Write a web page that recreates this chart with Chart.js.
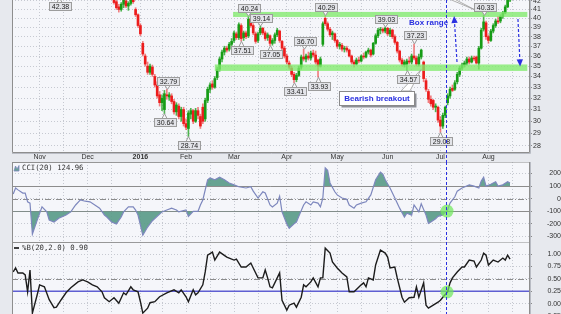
<!DOCTYPE html>
<html><head><meta charset="utf-8">
<script src="https://cdn.jsdelivr.net/npm/chart.js@4.4.1/dist/chart.umd.min.js"></script>
<style>
html,body{margin:0;padding:0;background:#e7e9ee;width:561px;height:314px;overflow:hidden}
canvas{position:absolute;left:0}
#cA{top:0}#cB{top:162px}#cC{top:242px}
</style></head><body>
<canvas id="cA" width="561" height="162"></canvas>
<canvas id="cB" width="561" height="80"></canvas>
<canvas id="cC" width="561" height="80"></canvas>
<script>
// ---------- DATA ----------
const firstCandleDay = 42; // trading-day index of first candle (day 0 = mid Oct 2015)
const opens = [
42.3,41.9,41.3,41.0,41.6,42.0,41.4,41.7,42.1,41.0,
40.4,39.2,37.3,36.0,35.0,34.4,34.9,34.0,33.2,32.3,
31.6,31.0,32.3,32.1,32.2,31.7,30.8,31.3,30.4,31.0,
29.8,29.4,30.6,30.9,30.0,30.9,30.4,31.2,30.2,31.8,
32.8,33.3,33.0,33.9,34.7,35.7,36.4,36.8,36.7,37.2,
37.6,38.3,37.9,39.2,37.9,38.4,38.1,39.9,39.2,38.3,
37.6,38.4,38.9,38.4,37.9,38.1,37.3,37.6,38.2,38.6,
37.5,36.8,36.0,35.3,34.8,34.2,33.7,34.1,34.9,35.9,
35.7,36.0,35.8,36.3,36.1,35.6,35.0,37.2,40.0,39.4,
38.8,38.2,38.3,37.6,37.0,37.1,36.7,36.8,36.6,36.0,
35.4,35.2,35.6,35.5,36.0,35.9,36.4,36.6,36.2,37.3,
38.1,38.7,38.8,38.6,38.9,38.3,38.7,38.0,37.4,36.5,
35.6,35.1,35.2,35.5,35.4,36.0,35.8,35.2,35.9,35.4,
33.6,32.6,31.9,31.8,31.2,31.2,30.1,29.6,30.5,31.6,
32.2,32.9,32.8,33.5,34.2,34.8,35.1,35.3,35.7,35.4,
35.8,35.9,35.3,36.8,38.8,39.5,38.0,37.6,38.6,39.2,
39.7,39.7,40.2,40.6,41.3,42.1];
const highs = [
42.6,42.2,41.6,41.8,42.4,42.2,41.9,42.4,42.5,41.2,
40.5,39.4,37.5,36.2,35.4,35.2,35.1,34.2,33.5,32.6,
32.3,32.7,32.79,32.5,32.4,31.9,31.6,31.5,31.2,31.2,
30.2,30.9,31.1,31.0,31.1,31.2,30.6,31.5,32.0,33.0,
33.4,33.6,34.0,34.9,35.9,36.6,37.0,37.0,37.4,37.8,
38.6,38.5,39.5,39.4,38.6,38.6,40.24,40.1,39.4,38.5,
38.5,39.14,39.0,38.6,38.4,38.2,37.8,38.4,38.9,38.7,
37.6,37.0,36.2,35.5,35.0,34.4,34.3,35.0,36.1,36.70,
36.2,36.4,36.5,36.6,36.5,35.7,35.9,39.6,40.29,39.6,
39.0,38.6,38.4,37.7,37.4,37.3,37.0,37.0,36.7,36.1,
35.6,35.8,35.9,36.1,36.3,36.5,36.8,36.7,37.4,38.3,
38.9,39.0,38.95,39.03,39.0,38.9,38.8,38.2,37.5,36.6,
35.8,35.6,35.7,35.9,36.2,37.23,36.0,36.2,36.7,35.5,
33.8,32.8,32.2,31.9,31.5,31.3,30.4,30.7,31.3,32.4,
33.0,33.2,33.6,34.4,35.0,35.3,35.5,35.9,35.9,36.0,
36.0,36.0,37.0,38.9,40.33,39.7,38.2,38.8,39.4,39.9,
40.2,40.4,40.8,41.5,42.3,42.9];
const lows = [
41.6,41.0,40.7,40.8,41.2,41.2,40.9,41.5,41.7,40.2,
39.0,38.1,36.0,35.0,34.2,34.2,34.0,33.0,32.0,31.3,
30.9,30.64,31.9,31.8,31.5,30.6,30.5,30.2,30.0,29.6,
29.3,28.74,30.2,29.8,29.9,30.2,29.4,29.8,30.0,31.6,
32.5,32.8,32.9,33.7,34.5,35.4,36.1,36.4,36.5,37.0,
37.4,37.7,37.7,37.51,37.6,37.8,37.9,39.0,38.2,37.3,
37.4,38.2,38.2,37.6,37.6,37.05,37.1,37.3,38.0,37.4,
36.6,35.8,35.2,34.7,34.0,33.41,33.5,34.0,34.7,35.5,
35.4,35.6,35.6,35.9,35.2,33.93,34.9,37.0,39.2,38.6,
38.0,37.7,37.4,36.8,36.7,36.5,36.4,36.4,35.9,35.2,
34.9,35.1,35.3,35.4,35.7,35.8,36.2,35.9,36.1,37.2,
37.9,38.3,38.4,38.4,38.1,38.0,37.8,37.2,36.3,35.4,
35.0,34.9,34.57,35.2,35.2,35.6,35.0,35.0,35.7,33.5,
32.6,31.6,31.3,31.0,30.8,29.9,29.08,29.4,30.3,31.4,
32.0,32.6,32.7,33.3,34.0,34.6,34.9,35.1,35.2,35.3,
35.5,35.2,34.7,36.7,38.6,37.7,37.3,37.5,38.4,39.0,
39.4,39.5,40.0,40.5,41.2,41.9];
const closes = [
41.8,41.2,41.0,41.6,42.1,41.4,41.7,42.2,41.9,40.4,
39.2,38.3,36.2,35.2,34.4,35.0,34.2,33.2,32.2,31.6,
32.0,32.4,32.2,32.3,31.7,30.8,31.4,30.4,31.0,29.8,
29.5,30.7,30.9,30.0,30.9,30.5,29.6,30.0,31.8,32.8,
33.2,33.0,33.8,34.7,35.7,36.4,36.8,36.6,37.2,37.5,
38.4,37.9,39.3,37.8,38.4,38.0,39.9,39.2,38.4,37.5,
38.3,38.9,38.4,37.8,38.2,37.3,37.6,38.2,38.7,37.6,
36.8,36.0,35.4,34.9,34.2,33.7,34.1,34.8,35.9,35.7,
36.0,35.8,36.3,36.1,35.4,35.0,35.7,39.4,39.4,38.8,
38.2,38.4,37.6,37.0,37.2,36.7,36.8,36.6,36.0,35.4,
35.2,35.6,35.5,36.0,35.9,36.4,36.6,36.1,37.3,38.1,
38.7,38.8,38.6,38.9,38.3,38.7,38.0,37.4,36.5,35.6,
35.2,35.4,35.5,35.4,36.0,35.8,35.2,35.9,36.6,33.8,
32.8,31.9,31.5,31.2,31.3,30.1,29.6,30.5,31.2,32.2,
32.8,32.7,33.4,34.2,34.8,35.1,35.3,35.7,35.4,35.8,
35.7,35.3,36.8,38.7,39.6,38.0,37.6,38.6,39.2,39.7,
39.6,40.2,40.6,41.3,42.1,42.6];

const cciDays = [0,1,2,4,5,6,7,8,10,12,14,15,17,19,22,24,26,28,30,32,34,36,38,39,41,43,45,46,48,50,51,52,53,54,56,58,60,62,64,66,68,69,72,73,75,77,78,79,81,82,84,86,88,90,92,94,97,99,100,102,104,105,107,108,110,111,112,114,115,117,118,119,121,122,124,125,127,128,129,130,131,132,134,135,137,139,140,142,143,145,147,149,151,153,154,155,157,159,161,163,164,166,167,169,170,172,173,174,176,177,179,181,182,184,185,187,190,192,194,195,196,197,199,201,202,204,206,207];
const cciValues = [38,85,70,45,45,-25,-35,-280,-170,-65,-105,-170,-185,-155,-130,-105,-50,-10,-20,-25,-50,-75,-130,-145,-185,-200,-145,-105,-65,-65,-90,-130,-210,-290,-225,-175,-140,-105,-90,-75,-90,-105,-90,-140,-100,-100,-50,-10,150,165,150,170,150,125,110,95,85,95,60,5,55,45,-50,-65,-35,20,-105,-200,-235,-200,-185,-140,-50,-25,-50,-25,-35,-65,5,245,225,125,55,30,5,-5,-50,-75,-50,-35,-25,30,150,210,195,150,85,5,-75,-145,-115,-130,-50,-105,-40,-130,-195,-185,-160,-140,-130,-90,-35,15,60,85,110,100,85,140,170,100,115,135,100,110,135,125];

const pctbDays = [0,1,2,4,5,6,7,8,10,11,13,15,17,18,20,22,24,27,29,31,33,35,37,38,40,42,44,46,47,49,50,52,53,54,56,57,59,61,64,67,69,70,72,73,75,76,77,79,80,81,83,84,86,89,92,93,95,97,99,100,102,104,105,106,107,108,110,111,112,114,115,117,118,120,121,122,124,125,127,128,129,130,132,133,135,137,139,140,142,145,146,147,148,150,151,153,155,156,157,159,160,162,163,165,167,168,169,171,172,173,175,177,178,179,181,182,183,185,187,188,190,192,193,195,196,197,198,200,202,204,205,206,207];
const pctbValues = [0.64,0.72,0.62,0.62,0.58,0.24,0.68,-0.19,0.18,0.38,0.34,0.08,-0.08,-0.07,0.08,0.22,0.32,0.44,0.48,0.44,0.38,0.34,0.24,0.12,0.04,0.12,0.01,0.22,0.18,0.34,0.28,0.24,0.04,-0.19,-0.09,0.02,0.04,0.14,0.22,0.28,0.22,0.28,0.14,0.04,0.28,0.18,0.22,0.38,0.64,0.98,1.04,0.88,1.04,0.94,0.88,0.90,0.74,0.74,0.82,0.72,0.52,0.52,0.68,0.52,0.34,0.32,0.52,0.62,0.07,-0.13,-0.03,0.01,-0.07,0.13,0.38,0.34,0.44,0.52,0.34,0.52,0.52,1.12,1.02,0.84,0.72,0.62,0.54,0.24,0.24,0.38,0.42,0.34,0.52,0.48,0.78,1.08,1.02,0.94,0.72,0.74,0.52,0.13,0.03,0.12,0.13,0.34,0.13,0.42,-0.03,-0.09,-0.03,0.03,0.07,0.13,0.24,0.42,0.52,0.64,0.74,0.74,0.88,0.86,0.74,0.88,1.02,0.98,0.78,0.88,0.84,0.92,0.88,0.98,0.90];

const priceTicks = [28,29,30,31,32,33,34,35,36,37,38,39,40,41,42];
const cciTicks = [200,100,0,-100,-200,-300];
const pctbTicks = [1,0.75,0.5,0.25,0,-0.25];
const monthStartDays = [11,31,53,72,92,114,135,156,178,198];
const monthNames = ['Nov','Dec','2016','Feb','Mar','Apr','May','Jun','Jul','Aug'];
const midMonthDays = [21,41,62,82,102,124,145,166,187,208];

// annotations (data units)
const labelDays   = [19,64,63,73,98,95,103,107,121,117,127,130,155,167,164,178,196];
const labelPrices = [42.38,32.79,30.64,28.74,40.24,37.51,39.14,37.05,36.70,33.41,33.93,40.29,39.03,37.23,34.57,29.08,40.33];
const labelSides  = ['b','a','b','b','a','b','a','b','a','b','b','a','a','a','b','b','a'];
const bandDays = [[91.6,214.2],[84,214.2]];
const bandPrices = [[40.15,40.72],[34.53,35.16]];
const arrowFrom = [[184.9,35.4],[210.3,39.92]];
const arrowTo   = [[183.7,40.26],[211.2,34.97]];
const breakoutDay = 180.5;
const cciLegend = 'CCI(20) 124.96';
const pctbLegend = '%B(20,2.0) 0.90';

// ---------- STYLE ----------
const X_MIN = -0.5, X_MAX = 214.9;
const FONT_AX = '"Liberation Sans", Arial, sans-serif';
const FONT_MONO = '"DejaVu Sans Mono", monospace';
const GRID = '#c6c9d1';
const PLOT_BG = '#f5f6fa';
const UP = '#169c16', DOWN = '#ec1c1c';
const BLUE = '#2a30e0';
const gridDays = monthStartDays.concat(midMonthDays).sort((a,b)=>a-b);

function xScale(showLabels){
  return {
    type:'linear', min:X_MIN, max:X_MAX, bounds:'data', offset:false,
    afterBuildTicks: s => { s.ticks = gridDays.map(v=>({value:v})); },
    afterFit: s => { s.height = showLabels ? 10 : 0; s.paddingLeft = 0; s.paddingRight = 0; },
    grid:{color:GRID, drawTicks:false, offset:false},
    border:{display:false, dash:[1,2]},
    ticks:{display:showLabels, autoSkip:false, maxRotation:0, padding:1, color:'#333',
      font: c => ({family:FONT_AX, size:7, weight:(c.tick && c.tick.label==='2016')?'bold':'normal'}),
      callback: v => { const k = monthStartDays.indexOf(v); return k>=0 ? monthNames[k] : ''; }}
  };
}
function yScale(type, min, max, ticks, fmt, align, width){
  return {
    type, position:'right', min, max, bounds:'data',
    afterBuildTicks: s => { s.ticks = ticks.map(v=>({value:v})); },
    afterFit: s => { s.width = width; s.paddingTop = 0; s.paddingBottom = 0; },
    grid:{color:GRID, tickColor:'#8a8a8a', tickLength:3, tickBorderDash:[]},
    border:{display:false, dash:[1,2]},
    ticks:{padding:1, color:'#333', font:{family:FONT_AX,size:7}, crossAlign:align, autoSkip:false, callback:fmt}
  };
}
function bgPlugin(){
  return {id:'bg', beforeDraw(chart){
    const {ctx, chartArea:a} = chart;
    ctx.save(); ctx.fillStyle = PLOT_BG; ctx.fillRect(a.left,a.top,a.right-a.left,a.bottom-a.top); ctx.restore();
  }};
}
function drawFrame(ctx, a, top){
  ctx.save();
  ctx.strokeStyle = '#b9bcc4'; ctx.lineWidth = 1;
  ctx.beginPath(); ctx.moveTo(a.right+1.5, a.top); ctx.lineTo(a.right+1.5, a.bottom+1.5); ctx.lineTo(a.left, a.bottom+1.5); ctx.stroke();
  ctx.strokeStyle = '#8e8e8e';
  ctx.beginPath();
  ctx.moveTo(a.left+0.5, a.top); ctx.lineTo(a.left+0.5, a.bottom+0.5); ctx.lineTo(a.right+0.5, a.bottom+0.5); ctx.lineTo(a.right+0.5, a.top);
  if (top) { ctx.lineTo(a.left+0.5, a.top+0.5); }
  ctx.stroke();
  ctx.restore();
}
function drawBreakLine(chart){
  const {ctx, scales:{x}} = chart;
  const px = Math.round(x.getPixelForValue(breakoutDay))+0.5;
  ctx.save(); ctx.strokeStyle = BLUE; ctx.lineWidth = 1; ctx.setLineDash([3,2]);
  ctx.beginPath(); ctx.moveTo(px,0); ctx.lineTo(px,chart.height); ctx.stroke(); ctx.restore();
}
function arrow(ctx,x1,y1,x2,y2){
  const ang = Math.atan2(y2-y1,x2-x1), L=7, W=3.2;
  const bx = x2-L*Math.cos(ang), by = y2-L*Math.sin(ang);
  ctx.save(); ctx.strokeStyle = BLUE; ctx.lineWidth = 1.2; ctx.setLineDash([3,2]);
  ctx.beginPath(); ctx.moveTo(x1,y1); ctx.lineTo(bx,by); ctx.stroke();
  ctx.setLineDash([]); ctx.fillStyle = BLUE; ctx.beginPath();
  ctx.moveTo(x2,y2); ctx.lineTo(bx+W*Math.sin(ang), by-W*Math.cos(ang)); ctx.lineTo(bx-W*Math.sin(ang), by+W*Math.cos(ang));
  ctx.closePath(); ctx.fill(); ctx.restore();
}
function priceLabel(ctx, px, py, text, side){
  ctx.save();
  ctx.font = '7px ' + FONT_AX;
  const w = Math.round(ctx.measureText(text).width) + 4, h = 8;
  const cy = side==='a' ? py - 8.5 : py + 8.5;
  const bx = Math.round(px - w/2) + 0.5, by = Math.round(cy - h/2) + 0.5;
  ctx.fillStyle = '#f7f7f9'; ctx.strokeStyle = '#9c9c9c'; ctx.lineWidth = 1;
  ctx.beginPath();
  const ey = side==='a' ? by+h : by;
  ctx.moveTo(px-2.5, ey); ctx.lineTo(px, py); ctx.lineTo(px+2.5, ey); ctx.closePath();
  ctx.fill(); ctx.stroke();
  ctx.fillStyle = '#e3e4e9'; ctx.fillRect(bx,by,w,h); ctx.strokeRect(bx,by,w,h);
  ctx.fillStyle = '#222'; ctx.textAlign = 'center'; ctx.textBaseline = 'middle';
  ctx.fillText(text, bx + w/2, by + h/2 + 0.5);
  ctx.restore();
}

// ---------- PRICE PANEL ----------
const candleDays = opens.map((_,i)=>firstCandleDay+i);
const candleCol = opens.map((o,i)=> closes[i]>=o ? UP : DOWN);
const wickCol = opens.map((o,i)=> closes[i]>=o ? 'rgba(22,156,22,0.75)' : 'rgba(236,28,28,0.55)');

const annotA = {
  id:'annotA',
  afterDatasetsDraw(chart){
    const {ctx, chartArea:a, scales:{x,y}} = chart;
    ctx.save();
    ctx.beginPath(); ctx.rect(a.left,a.top,a.right-a.left,a.bottom-a.top); ctx.clip();
    ctx.fillStyle = 'rgba(128,234,108,0.78)';
    bandDays.forEach((d,i)=>{
      const x1 = x.getPixelForValue(d[0]), x2 = x.getPixelForValue(d[1]);
      const y1 = y.getPixelForValue(bandPrices[i][1]), y2 = y.getPixelForValue(bandPrices[i][0]);
      ctx.fillRect(x1,y1,x2-x1,y2-y1);
    });
    ctx.fillStyle = '#ffffff'; ctx.strokeStyle = '#9a9a9a'; ctx.lineWidth = 0.8;
    ctx.beginPath();
    ctx.moveTo(x.getPixelForValue(181.0), y.getPixelForValue(42.3));
    ctx.lineTo(x.getPixelForValue(183.2), y.getPixelForValue(42.3));
    ctx.lineTo(x.getPixelForValue(192.8), y.getPixelForValue(40.9));
    ctx.closePath(); ctx.fill(); ctx.stroke();
    ctx.beginPath();
    ctx.moveTo(x.getPixelForValue(161.6), y.getPixelForValue(32.65));
    ctx.lineTo(x.getPixelForValue(165.3), y.getPixelForValue(32.65));
    ctx.lineTo(x.getPixelForValue(169.9), y.getPixelForValue(34.65));
    ctx.closePath(); ctx.fill(); ctx.stroke();
    const bx1 = Math.round(x.getPixelForValue(135.75))+0.5, bx2 = Math.round(x.getPixelForValue(167))+0.5;
    const by1 = Math.round(y.getPixelForValue(32.65))+0.5, by2 = Math.round(y.getPixelForValue(31.38))+0.5;
    ctx.fillStyle = '#8d8f95'; ctx.fillRect(bx1+2, by1+2, bx2-bx1, by2-by1);
    ctx.fillStyle = '#ffffff'; ctx.fillRect(bx1, by1, bx2-bx1, by2-by1);
    ctx.strokeStyle = '#8a8a8a'; ctx.lineWidth = 1; ctx.strokeRect(bx1, by1, bx2-bx1, by2-by1);
    ctx.font = 'bold 8px ' + FONT_AX; ctx.fillStyle = BLUE; ctx.textAlign = 'center'; ctx.textBaseline = 'middle';
    ctx.fillText('Bearish breakout', (bx1+bx2)/2, (by1+by2)/2 + 0.5);
    ctx.textAlign = 'left';
    ctx.fillText('Box range', x.getPixelForValue(164.9), y.getPixelForValue(39.53));
    arrowFrom.forEach((f,i)=>{
      arrow(ctx, x.getPixelForValue(f[0]), y.getPixelForValue(f[1]), x.getPixelForValue(arrowTo[i][0]), y.getPixelForValue(arrowTo[i][1]));
    });
    labelDays.forEach((d,i)=>{
      priceLabel(ctx, Math.round(x.getPixelForValue(d))+0.5, y.getPixelForValue(labelPrices[i]), labelPrices[i].toFixed(2), labelSides[i]);
    });
    ctx.restore();
    drawFrame(ctx, a, false);
    drawBreakLine(chart);
  }
};

new Chart(document.getElementById('cA'), {
  type:'bar',
  data:{datasets:[
    {data: candleDays.map((d,i)=>({x:d, y:[Math.min(opens[i],closes[i]), Math.max(opens[i],closes[i])]})),
     backgroundColor:candleCol, barThickness:2, minBarLength:1, grouped:false, borderWidth:0, order:1},
    {data: candleDays.map((d,i)=>({x:d, y:[lows[i], highs[i]]})),
     backgroundColor:wickCol, barThickness:1, grouped:false, borderWidth:0, order:2}
  ]},
  options:{
    responsive:false, animation:false, devicePixelRatio:1,
    layout:{autoPadding:false, padding:{left:12, right:0, top:0, bottom:0}},
    plugins:{legend:{display:false}, tooltip:{enabled:false}},
    scales:{
      x: xScale(true),
      y: yScale('logarithmic', 27.53, 42.10, priceTicks, v=>String(v), 'near', 32)
    }
  },
  plugins:[bgPlugin(), annotA]
});

// ---------- CCI PANEL ----------
const cciPts = cciDays.map((d,i)=>({x:d, y:cciValues[i]}));
const CCI_FILL = 'rgba(88,154,134,0.9)';
const annotB = {
  id:'annotB',
  beforeDatasetsDraw(chart){
    const {ctx, chartArea:a, scales:{y}} = chart;
    ctx.save(); ctx.lineWidth = 1;
    [100,-100].forEach(v=>{
      const py = Math.round(y.getPixelForValue(v))+0.5;
      ctx.strokeStyle = '#8c8c8c'; ctx.beginPath(); ctx.moveTo(a.left,py); ctx.lineTo(a.right,py); ctx.stroke();
    });
    const p0 = Math.round(y.getPixelForValue(0))+0.5;
    ctx.strokeStyle = '#8c8c8c'; ctx.setLineDash([6,2,1,2]);
    ctx.beginPath(); ctx.moveTo(a.left,p0); ctx.lineTo(a.right,p0); ctx.stroke();
    ctx.restore();
  },
  afterDatasetsDraw(chart){
    const {ctx, chartArea:a, scales:{x,y}} = chart;
    ctx.save();
    ctx.fillStyle = 'rgba(112,232,92,0.72)';
    ctx.beginPath(); ctx.arc(x.getPixelForValue(180.75), y.getPixelForValue(-98), 6.5, 0, Math.PI*2); ctx.fill();
    ctx.fillStyle = CCI_FILL; ctx.strokeStyle = '#7d87bd'; ctx.lineWidth = 0.8;
    ctx.beginPath(); ctx.moveTo(a.left+2, a.top+9); ctx.lineTo(a.left+3.5, a.top+4); ctx.lineTo(a.left+5, a.top+7); ctx.lineTo(a.left+7, a.top+3.5); ctx.lineTo(a.left+7, a.top+9); ctx.closePath(); ctx.fill(); ctx.stroke();
    ctx.font = '7.3px ' + FONT_MONO; ctx.fillStyle = '#333'; ctx.textBaseline = 'middle'; ctx.textAlign = 'left';
    ctx.fillText(cciLegend, a.left+10, a.top+6);
    ctx.restore();
    drawFrame(ctx, a, true);
    drawBreakLine(chart);
  }
};
new Chart(document.getElementById('cB'), {
  type:'line',
  data:{datasets:[
    {data:cciPts, borderColor:'#7d87bd', borderWidth:1.2, pointRadius:0, tension:0,
     fill:{target:{value:100}, above:CCI_FILL, below:'rgba(0,0,0,0)'}},
    {data:cciPts, borderColor:'rgba(0,0,0,0)', borderWidth:0, pointRadius:0, tension:0,
     fill:{target:{value:-100}, above:'rgba(0,0,0,0)', below:CCI_FILL}}
  ]},
  options:{
    responsive:false, animation:false, devicePixelRatio:1,
    layout:{autoPadding:false, padding:{left:12, right:0, top:0, bottom:0}},
    plugins:{legend:{display:false}, tooltip:{enabled:false}},
    scales:{ x:xScale(false), y:yScale('linear', -343.7, 291.3, cciTicks, v=>String(v), 'far', 32) }
  },
  plugins:[bgPlugin(), annotB]
});

// ---------- %B PANEL ----------
const pctbPts = pctbDays.map((d,i)=>({x:d, y:pctbValues[i]}));
const annotC = {
  id:'annotC',
  beforeDatasetsDraw(chart){
    const {ctx, chartArea:a, scales:{y}} = chart;
    ctx.save();
    const p5 = Math.round(y.getPixelForValue(0.5))+0.5;
    ctx.strokeStyle = '#8c8c8c'; ctx.lineWidth = 1; ctx.setLineDash([6,2,1,2]);
    ctx.beginPath(); ctx.moveTo(a.left,p5); ctx.lineTo(a.right,p5); ctx.stroke();
    ctx.setLineDash([]);
    const p25 = y.getPixelForValue(0.25);
    ctx.strokeStyle = '#5f5fd2'; ctx.lineWidth = 1.4;
    ctx.beginPath(); ctx.moveTo(a.left,p25); ctx.lineTo(a.right,p25); ctx.stroke();
    ctx.restore();
  },
  afterDatasetsDraw(chart){
    const {ctx, chartArea:a, scales:{x,y}} = chart;
    ctx.save();
    ctx.fillStyle = 'rgba(112,232,92,0.72)';
    ctx.beginPath(); ctx.arc(x.getPixelForValue(180.75), y.getPixelForValue(0.236), 6.5, 0, Math.PI*2); ctx.fill();
    ctx.strokeStyle = '#111'; ctx.lineWidth = 1.6;
    ctx.beginPath(); ctx.moveTo(a.left+2, a.top+6); ctx.lineTo(a.left+7, a.top+6); ctx.stroke();
    ctx.font = '7.3px ' + FONT_MONO; ctx.fillStyle = '#333'; ctx.textBaseline = 'middle'; ctx.textAlign = 'left';
    ctx.fillText(pctbLegend, a.left+10, a.top+6);
    ctx.restore();
    drawFrame(ctx, a, true);
    drawBreakLine(chart);
  }
};
new Chart(document.getElementById('cC'), {
  type:'line',
  data:{datasets:[
    {data:pctbPts, borderColor:'#1c1c1c', borderWidth:1.4, pointRadius:0, tension:0, fill:false}
  ]},
  options:{
    responsive:false, animation:false, devicePixelRatio:1,
    layout:{autoPadding:false, padding:{left:12, right:0, top:0, bottom:0}},
    plugins:{legend:{display:false}, tooltip:{enabled:false}},
    scales:{ x:xScale(false), y:yScale('linear', -0.369, 1.244, pctbTicks, v=>v.toFixed(2), 'far', 32) }
  },
  plugins:[bgPlugin(), annotC]
});
</script></body></html>
